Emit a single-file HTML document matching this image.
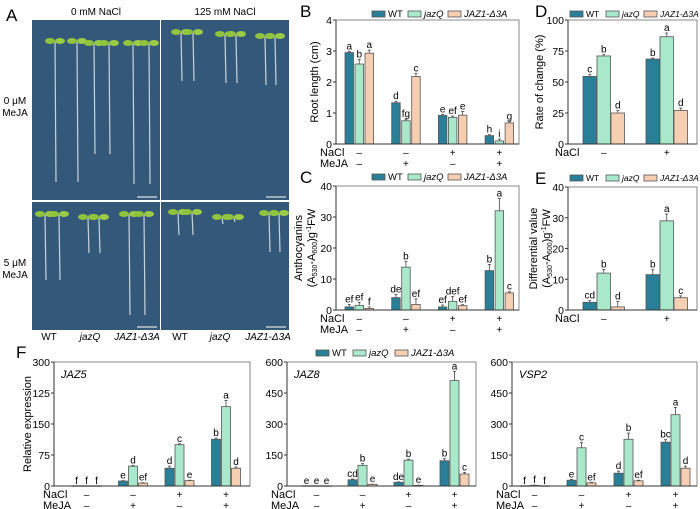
<!DOCTYPE html>
<html><head><meta charset="utf-8"><style>
html,body{margin:0;padding:0;background:#fff;}
svg{display:block;font-family:"Liberation Sans",Arial,sans-serif;}
</style></head><body>
<svg id="fig" width="700" height="509" viewBox="0 0 700 509" xmlns="http://www.w3.org/2000/svg">
<g id="panelA">
<text x="6" y="21" font-size="17">A</text>
<text x="96" y="15" font-size="10" text-anchor="middle">0 mM NaCl</text>
<text x="225" y="15" font-size="10" text-anchor="middle">125 mM NaCl</text>
<text x="15" y="104" font-size="10" text-anchor="middle">0 μM</text>
<text x="15" y="116" font-size="10" text-anchor="middle">MeJA</text>
<text x="15" y="266" font-size="10" text-anchor="middle">5 μM</text>
<text x="15" y="278" font-size="10" text-anchor="middle">MeJA</text>
<rect x="32" y="20" width="128" height="180" fill="#33587a"/>
<rect x="161" y="20" width="128" height="180" fill="#33587a"/>
<rect x="32" y="202" width="128" height="128" fill="#33587a"/>
<rect x="161" y="202" width="128" height="128" fill="#33587a"/>
<g id="seedlings"></g>
<text x="49" y="340" font-size="10" text-anchor="middle">WT</text>
<text x="90" y="340" font-size="10" font-style="italic" text-anchor="middle">jazQ</text>
<text x="137" y="340" font-size="10" font-style="italic" text-anchor="middle">JAZ1-Δ3A</text>
<text x="180" y="340" font-size="10" text-anchor="middle">WT</text>
<text x="220" y="340" font-size="10" font-style="italic" text-anchor="middle">jazQ</text>
<text x="268" y="340" font-size="10" font-style="italic" text-anchor="middle">JAZ1-Δ3A</text>
</g>
<g id="charts"></g>
</svg>
<script>
// ---- data ----
const genotypes = ["WT","jazQ","JAZ1-Δ3A"];
const rootLength = [[2.95,2.58,2.93],[1.33,0.75,2.18],[0.92,0.86,0.93],[0.27,0.10,0.68]];
const rootErr = [[0.04,0.15,0.1],[0.05,0.05,0.1],[0.03,0.04,0.12],[0.03,0.06,0.05]];
const rootLetters = [["a","b","a"],["d","fg","c"],["e","ef","e"],["h","i","g"]];
const antho = [[1.0,1.5,0.5],[4.0,13.8,1.8],[1.0,2.8,1.4],[12.7,32.0,5.5]];
const anthoErr = [[0.8,1.0,0.5],[1.0,1.8,1.8],[0.6,1.6,0.3],[2.0,4.0,0.4]];
const anthoLetters = [["ef","ef","f"],["de","b","ef"],["ef","def","ef"],["b","a","c"]];
const rate = [[54.5,71,25],[68.5,86.5,27]];
const rateErr = [[1.5,1,2],[0.8,3,2]];
const rateLetters = [["c","b","d"],["b","a","d"]];
const diffVal = [[2.5,12,1],[11.5,29,4]];
const diffErr = [[0.6,1.2,1.8],[1.6,2.2,0.6]];
const diffLetters = [["cd","b","d"],["b","a","c"]];
const jaz5 = [[0.5,0.5,0.5],[12,48,7],[43,100,13],[113,192,43]];
const jaz5Err = [[0,0,0],[1,2,1],[5,2,1],[3,15,3]];
const jaz5Letters = [["f","f","f"],["e","d","ef"],["d","c","e"],["b","a","d"]];
const jaz8 = [[1,1,1],[30,100,8],[18,125,3],[122,510,58]];
const jaz8Err = [[0,0,0],[4,8,1],[2,5,1],[10,45,8]];
const jaz8Letters = [["e","e","e"],["cd","b","e"],["de","b","e"],["b","a","c"]];
const vsp2 = [[1,3,1],[28,185,15],[62,226,25],[212,345,86]];
const vsp2Err = [[0,1,0],[4,25,3],[10,30,3],[12,35,10]];
const vsp2Letters = [["f","f","f"],["e","c","ef"],["d","b","ef"],["bc","a","d"]];
const ticks4 = [0,1,2,3,4];
const ticks40 = [0,10,20,30,40];
const ticks100 = [0,25,50,75,100];
const ticks300 = [0,75,150,225,300];
const ticks300Labels = ["0","75","150","125","300"];
const ticks600 = [0,150,300,450,600];
const nacl4 = ["–","–","+","+"];
const meja4 = ["–","+","–","+"];
const nacl2 = ["–","+"];

const colors = ["#2a7f98","#a9e8cb","#f6cfb3"];
const NS = "http://www.w3.org/2000/svg";
const root = document.getElementById("charts");
function mk(tag, attrs, parent, txt){
  const e = document.createElementNS(NS, tag);
  for (const k in attrs) e.setAttribute(k, attrs[k]);
  if (txt !== undefined) e.textContent = txt;
  (parent||root).appendChild(e); return e;
}

function chart(c){
  const g = mk("g", {});
  
  
  const yS = v => c.bottom - (v / c.max) * (c.bottom - c.top);
  const ticks = c.ticks, labels = c.labels || c.ticks.map(String);
  ticks.forEach((t,i)=>{
    const y = yS(t);
    const tk = mk("line",{x1:c.left-3,x2:c.left,y1:y,y2:y,stroke:"#333","stroke-width":1},g);
    
    
    const tl = mk("text",{x:c.left-4,y:y+4,"font-size":10.5,"text-anchor":"end"},g,labels[i]);
    
    
  });
  const gw = 3*c.bw + 2*c.gap;
  c.data.forEach((grp,gi)=>{
    const gx = c.left + c.off + gi*c.step;
    grp.forEach((v,si)=>{
      const x = gx + si*(c.bw+c.gap);
      const y = yS(v);
      const e = c.err[gi][si];
      if (e>0){
        const el = mk("line",{x1:x+c.bw/2,x2:x+c.bw/2,y1:y,y2:yS(v+e),stroke:"#444","stroke-width":0.8},g);
        
        
        const ec = mk("line",{x1:x+c.bw/2-1.5,x2:x+c.bw/2+1.5,y1:yS(v+e),y2:yS(v+e),stroke:"#444","stroke-width":0.8},g);
        
        
      }
      const r = mk("rect",{x:x,y:y,width:c.bw,height:Math.max(c.bottom-y,0.5),fill:colors[si],stroke:"#555","stroke-width":0.8},g);
      
      
      const lt = mk("text",{x:x+c.bw/2,y:yS(v+e)-2,"font-size":10,"text-anchor":"middle"},g,c.letters[gi][si]);
      
      
    });
    const cx = gx + gw/2;
    c.rows.forEach((row,ri)=>{
      const s = mk("text",{x:cx,y:c.bottom+12+ri*11,"font-size":10,"text-anchor":"middle"},g,row[gi]);
      
      
    });
  });
  ["NaCl","MeJA"].slice(0,c.rows.length).forEach((n,ri)=>{
    const t = mk("text",{x:c.left-c.rowOff,y:c.bottom+12+ri*11,"font-size":11},g,n);
    
    
  });
  const fr = mk("rect",{x:c.left,y:c.top,width:c.right-c.left,height:c.bottom-c.top,fill:"none",stroke:"#888","stroke-width":1},g);
  
  
  const ax = mk("path",{d:`M${c.left},${c.top}V${c.bottom}H${c.right}`,fill:"none",stroke:"#333","stroke-width":1},g);
  
  
  if (c.ylab){
    const cy = (c.top+c.bottom)/2;
    c.ylab.forEach((l,li)=>{
      const t = mk("text",{x:0,y:0,"font-size":11,"text-anchor":"middle",transform:`translate(${c.ylabX + li*13},${cy}) rotate(-90)`},g);
      t.innerHTML = l;
      
      
    });
  }
  if (c.title){
    const t = mk("text",{x:c.left+7,y:c.top+16,"font-size":11,"font-style":"italic"},g,c.title);
    
    
  }
  if (c.panel){
    const t = mk("text",{x:c.panelX,y:c.panelY,"font-size":17},g,c.panel);
    
    
  }
  if (c.legend){
    legend(g, c.legend[0], c.legend[1], c.legend[2], c.legend[3]||9.5);
  }
}
function legend(g, x, y, widths, fs){
  let cx = x;
  genotypes.forEach((n,i)=>{
    const r = mk("rect",{x:cx,y:y-6,width:13,height:6,fill:colors[i],stroke:"#555","stroke-width":0.8},g);
    
    
    const t = mk("text",{x:cx+16,y:y,"font-size":fs,"font-style":i?"italic":"normal"},g,n);
    
    
    cx += widths[i];
  });
}
const aLab = 'Anthocyanins';
const aLab2 = '(A<tspan font-size="7" dy="2">530</tspan><tspan dy="-2">-A</tspan><tspan font-size="7" dy="2">600</tspan><tspan dy="-2">)g</tspan><tspan font-size="7" dy="-4">-1</tspan><tspan dy="4">FW</tspan>';
chart({name:"chart-b-root-length",left:336,right:519,top:20,bottom:144,max:4,ticks:ticks4,data:rootLength,err:rootErr,letters:rootLetters,off:9,step:46.7,bw:8.5,gap:1.5,rows:[nacl4,meja4],rowOff:16,ylab:["Root length (cm)"],ylabX:318,panel:"B",panelX:300,panelY:17,legend:[372,17,[36,40,50]]});
chart({name:"chart-c-anthocyanins",left:336,right:519,top:186,bottom:310,max:40,ticks:ticks40,data:antho,err:anthoErr,letters:anthoLetters,off:9,step:46.7,bw:8.5,gap:1.5,rows:[nacl4,meja4],rowOff:16,ylab:[aLab,aLab2],ylabX:302,panel:"C",panelX:300,panelY:183,legend:[372,180,[36,40,50]]});
chart({name:"chart-d-rate-of-change",left:568,right:697,top:20,bottom:144,max:100,ticks:ticks100,data:rate,err:rateErr,letters:rateLetters,off:15,step:63,bw:13.5,gap:0.5,rows:[nacl2],rowOff:13,ylab:["Rate of change (%)"],ylabX:543,panel:"D",panelX:535,panelY:17,legend:[570,17,[36,38,50],8.5]});
chart({name:"chart-e-differential-value",left:568,right:697,top:187,bottom:310,max:40,ticks:ticks40,data:diffVal,err:diffErr,letters:diffLetters,off:15,step:63,bw:13.5,gap:0.5,rows:[nacl2],rowOff:13,ylab:["Differential value",aLab2],ylabX:537,panel:"E",panelX:535,panelY:184,legend:[570,181,[36,38,50],8.5]});
chart({name:"chart-f-jaz5",left:54,right:250,top:362,bottom:486,max:300,ticks:ticks300,labels:ticks300Labels,data:jaz5,err:jaz5Err,letters:jaz5Letters,off:18,step:46.5,bw:9,gap:1,rows:[nacl4,meja4],rowOff:11,ylab:["Relative expression"],ylabX:31,title:"JAZ5",panel:"F",panelX:16,panelY:358});
chart({name:"chart-f-jaz8",left:287,right:476,top:362,bottom:486,max:600,ticks:ticks600,data:jaz8,err:jaz8Err,letters:jaz8Letters,off:15,step:46,bw:9,gap:1,rows:[nacl4,meja4],rowOff:16,title:"JAZ8",legend:[316,356,[37,42,50]]});
chart({name:"chart-f-vsp2",left:512,right:697,top:362,bottom:486,max:600,ticks:ticks600,data:vsp2,err:vsp2Err,letters:vsp2Letters,off:8,step:47,bw:9,gap:1,rows:[nacl4,meja4],rowOff:16,title:"VSP2"});

// seedlings decoration (photos)
const sg = document.getElementById("seedlings");
function seed(x,top,len){
  mk("line",{x1:x,y1:top,x2:x+1,y2:top+len,stroke:"#c9d3dc","stroke-width":1.2},sg);
  mk("ellipse",{cx:x-5,cy:top-1,rx:5,ry:3,fill:"#8fc43c"},sg);
  mk("ellipse",{cx:x+5,cy:top-1,rx:5,ry:3,fill:"#9bcc45"},sg);
}
[[55,42,140],[77,42,140],[94,44,110],[109,44,110],[133,44,140],[149,44,140]].forEach(s=>seed(...s));
[[181,33,48],[193,33,48],[225,35,48],[236,35,48],[265,37,48],[275,37,48]].forEach(s=>seed(...s));
[[45,215,65],[59,215,65],[88,218,35],[99,218,35],[129,215,100],[144,215,100]].forEach(s=>seed(...s));
[[178,213,22],[192,213,22],[222,218,6],[234,218,4],[269,214,38],[279,214,38]].forEach(s=>seed(...s));
[[137,197],[266,197],[137,327],[266,327]].forEach(p=>mk("line",{x1:p[0],x2:p[0]+20,y1:p[1],y2:p[1],stroke:"#ddd","stroke-width":1.2},sg));
</script>
</body></html>
